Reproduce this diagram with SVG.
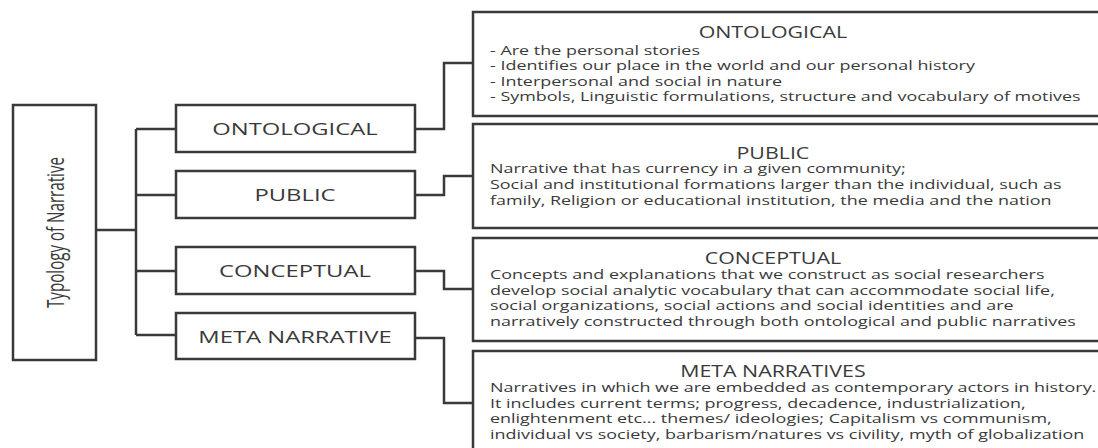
<svg xmlns="http://www.w3.org/2000/svg" width="1098" height="448" viewBox="0 0 1098 448">
  <style>
    .box { fill: #ffffff; stroke: #3a3a3a; stroke-width: 2.5; }
    .wire { fill: none; stroke: #3a3a3a; stroke-width: 2.5; }
    .lbl { font-family: "Open Sans", "Noto Sans", sans-serif; font-size: 17px; fill: #3a3a3a; text-anchor: middle; }
    .ttl { font-family: "Open Sans", "Noto Sans", sans-serif; font-size: 15.5px; fill: #3a3a3a; text-anchor: middle; }
    .body { font-family: "Open Sans", "Noto Sans", sans-serif; font-size: 13px; fill: #3a3a3a; }
    .root { font-family: "Open Sans", "Noto Sans", sans-serif; font-size: 17.5px; fill: #3a3a3a; text-anchor: middle; }
  </style>
  <rect width="1098" height="448" fill="#ffffff"/>

  <!-- connectors -->
  <g id="connectors">
    <path class="wire" d="M96 230 H136"/>
    <path class="wire" d="M136 129 V335"/>
    <path class="wire" d="M136 129 H176 M136 195 H176 M136 271 H176 M136 335 H176"/>
    <path class="wire" d="M415 129 H444 V63 H473"/>
    <path class="wire" d="M415 195 H444 V176 H473"/>
    <path class="wire" d="M415 271 H444 V289 H473"/>
    <path class="wire" d="M415 338 H444 V403 H473"/>
  </g>

  <!-- root -->
  <g id="typology">
    <rect class="box" x="13" y="105" width="83" height="255"/>
    <text class="root" transform="translate(64 232.5) rotate(-90) scale(1 1.38)" textLength="151" lengthAdjust="spacingAndGlyphs">Typology of Narrative</text>
  </g>

  <!-- categories (labels drawn wide) -->
  <g id="cat-ontological">
    <rect class="box" x="176" y="105" width="239" height="47"/>
    <text class="lbl" transform="translate(295 135) scale(1.4 1)">ONTOLOGICAL</text>
  </g>
  <g id="cat-public">
    <rect class="box" x="176" y="171" width="239" height="47"/>
    <text class="lbl" transform="translate(295 201) scale(1.4 1)">PUBLIC</text>
  </g>
  <g id="cat-conceptual">
    <rect class="box" x="176" y="247" width="239" height="47"/>
    <text class="lbl" transform="translate(295 277) scale(1.4 1)">CONCEPTUAL</text>
  </g>
  <g id="cat-meta">
    <rect class="box" x="176" y="313" width="239" height="46"/>
    <text class="lbl" transform="translate(295 343) scale(1.4 1)">META NARRATIVE</text>
  </g>

  <!-- descriptions: text is set in a horizontally widened frame starting at x=490 -->
  <g id="desc-ontological">
    <rect class="box" x="473" y="12" width="640" height="104"/>
    <g transform="translate(490 0) scale(1.38 1)">
      <text class="ttl" x="205" y="38.5">ONTOLOGICAL</text>
      <text class="body" x="0" y="55">- Are the personal stories</text>
      <text class="body" x="0" y="70.5">- Identifies our place in the world and our personal history</text>
      <text class="body" x="0" y="86">- Interpersonal and social in nature</text>
      <text class="body" x="0" y="101.5">- Symbols, Linguistic formulations, structure and vocabulary of motives</text>
    </g>
  </g>
  <g id="desc-public">
    <rect class="box" x="473" y="124" width="640" height="104"/>
    <g transform="translate(490 0) scale(1.38 1)">
      <text class="ttl" x="205" y="159.5">PUBLIC</text>
      <text class="body" x="0" y="173.5">Narrative that has currency in a given community;</text>
      <text class="body" x="0" y="189.5">Social and institutional formations larger than the individual, such as</text>
      <text class="body" x="0" y="205.5">family, Religion or educational institution, the media and the nation</text>
    </g>
  </g>
  <g id="desc-conceptual">
    <rect class="box" x="473" y="238" width="640" height="103"/>
    <g transform="translate(490 0) scale(1.38 1)">
      <text class="ttl" x="205" y="264.5">CONCEPTUAL</text>
      <text class="body" x="0" y="279.5">Concepts and explanations that we construct as social researchers</text>
      <text class="body" x="0" y="295.5">develop social analytic vocabulary that can accommodate social life,</text>
      <text class="body" x="0" y="310.5">social organizations, social actions and social identities and are</text>
      <text class="body" x="0" y="326.5">narratively constructed through both ontological and public narratives</text>
    </g>
  </g>
  <g id="desc-meta">
    <rect class="box" x="473" y="351" width="640" height="110"/>
    <g transform="translate(490 0) scale(1.38 1)">
      <text class="ttl" x="205" y="377.5">META NARRATIVES</text>
      <text class="body" x="0" y="392.5">Narratives in which we are embedded as contemporary actors in history.</text>
      <text class="body" x="0" y="408.5">It includes current terms; progress, decadence, industrialization,</text>
      <text class="body" x="0" y="423.5">enlightenment etc... themes/ ideologies; Capitalism vs communism,</text>
      <text class="body" x="0" y="439.5">individual vs society, barbarism/natures vs civility, myth of globalization</text>
    </g>
  </g>
</svg>
